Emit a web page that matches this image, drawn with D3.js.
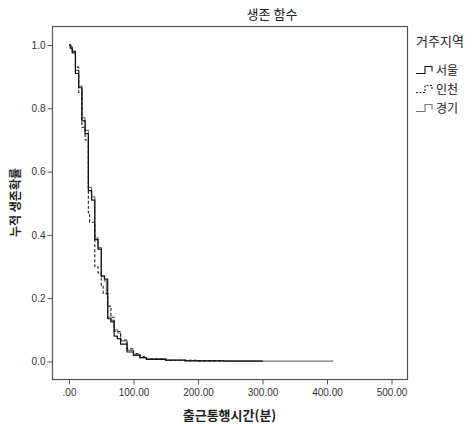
<!DOCTYPE html>
<html>
<head>
<meta charset="utf-8">
<script src="https://cdn.jsdelivr.net/npm/d3@7"></script>
<style>
  body { margin: 0; background: #fff; }
  text { font-family: "Noto Sans CJK KR", "Liberation Sans", sans-serif; }
</style>
</head>
<body>
<div id="chart"></div>
<script>
// survival step data per region (time in minutes, cumulative survival)
const seoulTime = [0, 2, 5, 10, 15, 20, 25, 30, 35, 40, 45, 50, 55, 60, 65, 70, 75, 80, 90, 100, 110, 120, 150, 180, 240, 300]
const seoulSurv = [1.0, 0.99, 0.975, 0.91, 0.865, 0.76, 0.72, 0.54, 0.51, 0.385, 0.355, 0.27, 0.26, 0.135, 0.125, 0.08, 0.072, 0.055, 0.03, 0.02, 0.012, 0.007, 0.004, 0.002, 0.001, 0.001]

const incheonTime = [0, 3, 5, 10, 15, 20, 25, 30, 32, 40, 45, 50, 53, 60, 65, 70, 80, 90, 100, 110, 120, 150, 200, 240]
const incheonSurv = [1.0, 0.99, 0.98, 0.93, 0.85, 0.74, 0.70, 0.47, 0.44, 0.30, 0.28, 0.24, 0.215, 0.175, 0.14, 0.095, 0.068, 0.04, 0.025, 0.015, 0.008, 0.004, 0.002, 0.002]

const gyeonggiTime = [0, 2, 5, 10, 15, 20, 25, 30, 35, 40, 45, 50, 55, 58, 60, 65, 70, 75, 80, 90, 100, 110, 120, 150, 180, 240, 300, 410]
const gyeonggiSurv = [1.0, 0.995, 0.98, 0.92, 0.87, 0.77, 0.73, 0.55, 0.52, 0.39, 0.36, 0.27, 0.255, 0.213, 0.14, 0.13, 0.10, 0.09, 0.065, 0.035, 0.02, 0.012, 0.008, 0.005, 0.003, 0.002, 0.001, 0.001]

const groups = ["서울", "인천", "경기"]
const xTicks = [0, 100, 200, 300, 400, 500]
const yTicks = [0, 0.2, 0.4, 0.6, 0.8, 1.0]

const width = 473,
    height = 424;
const margin = { top: 26, right: 66, bottom: 45, left: 52 };

const svg = d3.select("#chart")
    .append("svg")
    .attr("width", width)
    .attr("height", height);

// x: 0 -> 69px, 500 -> 391px ; y: 1 -> 45px, 0 -> 361.5px
const x = d3.scaleLinear().domain([0, 500]).range([69, 391.5]);
const y = d3.scaleLinear().domain([0, 1]).range([361.5, 45]);

const plotLeft = margin.left, plotTop = margin.top,
    plotRight = width - margin.right, plotBottom = height - margin.bottom;

// frame
svg.append("rect")
    .attr("x", plotLeft + 0.5)
    .attr("y", plotTop + 0.5)
    .attr("width", plotRight - plotLeft)
    .attr("height", plotBottom - plotTop)
    .attr("fill", "none")
    .attr("stroke", "#555")
    .attr("stroke-width", 1.2);

// axes
const yAxis = svg.append("g")
    .attr("transform", `translate(${plotLeft + 0.5},0)`)
    .call(d3.axisLeft(y).tickValues(yTicks).tickFormat(d3.format(".1f")).tickSize(5).tickPadding(2));
const xAxis = svg.append("g")
    .attr("transform", `translate(0,${plotBottom + 0.5})`)
    .call(d3.axisBottom(x).tickValues(xTicks)
        .tickFormat(d => d === 0 ? ".00" : d3.format(".2f")(d)).tickSize(5).tickPadding(4));

[yAxis, xAxis].forEach(ax => {
    ax.select(".domain").remove();
    ax.selectAll(".tick line").attr("stroke", "#555");
    ax.selectAll(".tick text")
        .style("font-family", "'Liberation Sans', Arial, sans-serif")
        .style("font-size", "10px")
        .attr("fill", "#333");
});

// curves
const line = d3.line()
    .x(d => x(d[0]))
    .y(d => y(d[1]))
    .curve(d3.curveStepAfter);

const series = [
    { name: "경기", data: d3.zip(gyeonggiTime, gyeonggiSurv), stroke: "#777", dash: null, w: 1.2 },
    { name: "인천", data: d3.zip(incheonTime, incheonSurv), stroke: "#222", dash: "3,2", w: 1.1 },
    { name: "서울", data: d3.zip(seoulTime, seoulSurv), stroke: "#111", dash: null, w: 1.2 },
]

svg.append("g")
    .selectAll("path")
    .data(series)
    .join("path")
    .attr("d", d => line(d.data))
    .attr("fill", "none")
    .attr("stroke", d => d.stroke)
    .attr("stroke-width", d => d.w)
    .attr("stroke-dasharray", d => d.dash);

// titles
svg.append("text")
    .attr("x", 272)
    .attr("y", 19)
    .attr("text-anchor", "middle")
    .style("font-size", "13px")
    .attr("fill", "#222")
    .text("생존 함수");

svg.append("text")
    .attr("x", (plotLeft + plotRight) / 2)
    .attr("y", 420)
    .attr("text-anchor", "middle")
    .style("font-size", "13px")
    .style("font-weight", "bold")
    .attr("fill", "#222")
    .text("출근통행시간(분)");

svg.append("text")
    .attr("transform", `translate(20,${(plotTop + plotBottom) / 2}) rotate(-90)`)
    .attr("text-anchor", "middle")
    .style("font-size", "12px")
    .style("font-weight", "bold")
    .attr("fill", "#222")
    .text("누적 생존확률");

// legend
const legend = svg.append("g");
legend.append("text")
    .attr("x", 416)
    .attr("y", 46)
    .style("font-size", "13px")
    .attr("fill", "#222")
    .text("거주지역");

const legendStyle = {
    "서울": { stroke: "#111", dash: null },
    "인천": { stroke: "#222", dash: "2,1.5" },
    "경기": { stroke: "#777", dash: null },
}
const legendY = d3.scalePoint().domain(groups).range([70, 108]);

const items = legend.selectAll("g.item")
    .data(groups)
    .join("g")
    .attr("class", "item")
    .attr("transform", d => `translate(0,${legendY(d)})`);

items.append("path")
    .attr("d", "M416,3.5H425V-3.5H432V1.5")
    .attr("fill", "none")
    .attr("stroke", d => legendStyle[d].stroke)
    .attr("stroke-width", 1.1)
    .attr("stroke-dasharray", d => legendStyle[d].dash);

items.append("text")
    .attr("x", 436)
    .attr("y", 4.5)
    .style("font-size", "12px")
    .attr("fill", "#222")
    .text(d => d);
</script>
</body>
</html>
